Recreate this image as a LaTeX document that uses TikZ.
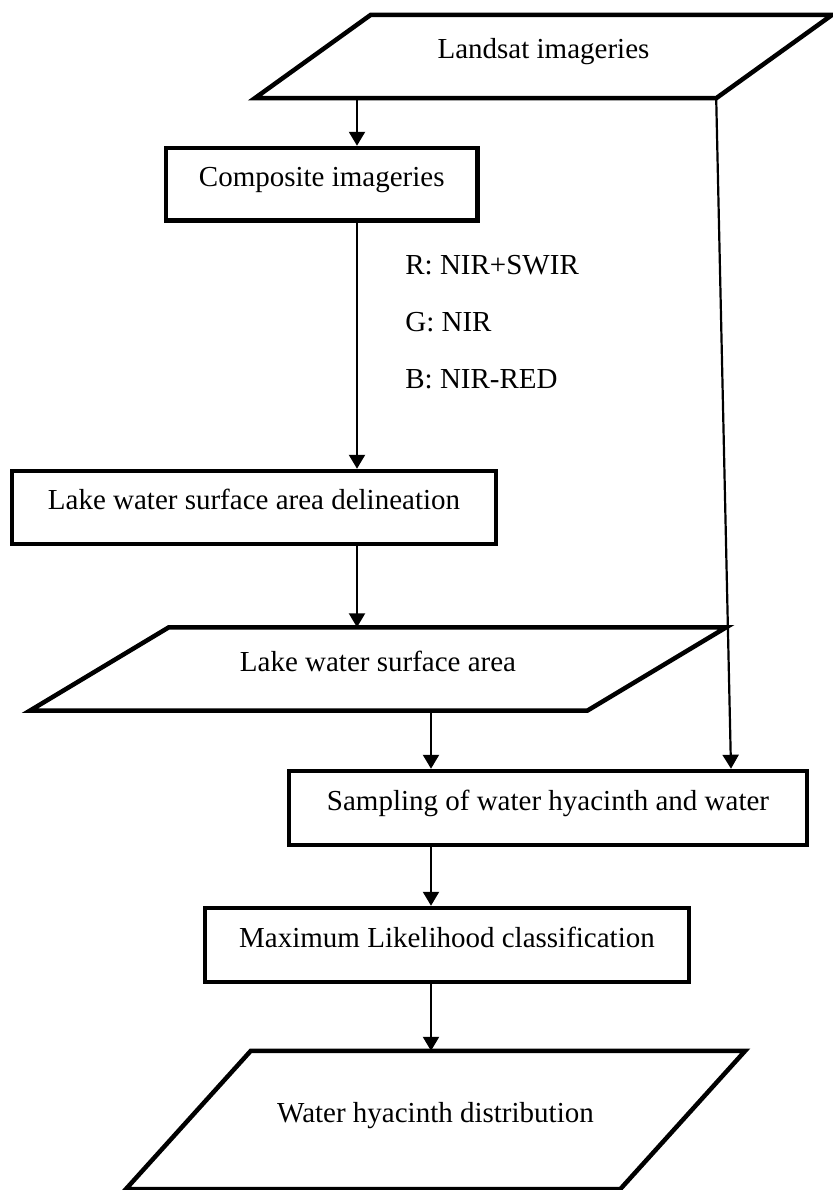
\documentclass[tikz,border=0pt]{standalone}
\usepackage{fontspec}
\setmainfont{Liberation Serif}
\usetikzlibrary{arrows.meta,positioning}

% parallelogram round a data node: #1 node, #2 slant
\newcommand{\datashape}[2]{%
  \draw[frame] ([xshift=#2]#1.north west) -- (#1.north east)
    -- ([xshift=-#2]#1.south east) coordinate (#1-corner) -- (#1.south west) -- cycle;}

\begin{document}
\begin{tikzpicture}[%
            x=0.5pt, y=-0.5pt,
            >={Triangle[length=7pt,width=8pt]},
            node distance=28.5pt,
            on grid,
            every node/.style={font=\fontsize{14.5pt}{17pt}\selectfont, text height=8pt, text depth=6pt, inner sep=0pt},
            frame/.style={line width=2.25pt, line join=miter},
            process/.style={draw, rectangle, frame},
            data/.style={rectangle, outer sep=1.1pt},
            flow/.style={->, line width=1.1pt}
            ]
            \useasboundingbox (0,0) rectangle (832,1190);

            \node[data, minimum width=286.5pt, minimum height=39.5pt] (landsat) at (543.5,56.5) {Landsat imageries};
            \node[process, minimum width=155.75pt, minimum height=36.25pt] (composite) at (321.75,184.25) {Composite imageries};
            \node[process, minimum width=242pt, minimum height=36.5pt] (delineation) at (254,507.5) {Lake water surface area delineation};
            \node[data, minimum width=346pt, minimum height=39.5pt] (lake) at (378,669) {Lake water surface area};
            \node[process, minimum width=259pt, minimum height=37pt] (sampling) at (548,808) {Sampling of water hyacinth and water};
            \node[process, minimum width=242pt, minimum height=37pt] (mlc) at (447,945) {Maximum Likelihood classification};
            \node[data, minimum width=307.5pt, minimum height=67pt] (hyacinth) at (435.5,1120) {Water hyacinth distribution};

            \datashape{landsat}{58pt}
            \datashape{lake}{69.5pt}
            \datashape{hyacinth}{62.5pt}

            % band combination
            \node[anchor=west] (bandR) at (405,272) {R: NIR+SWIR};
            \node[below=of bandR.west, anchor=west] (bandG) {G: NIR};
            \node[below=of bandG.west, anchor=west] (bandB) {B: NIR-RED};

            \coordinate (colA) at (357,0);
            \coordinate (colB) at (431,0);
            \coordinate (colC) at (731,0);

            \draw[flow] (landsat.south -| colA) -- (composite.north -| colA);
            \draw[flow] (composite.south -| colA) -- (delineation.north -| colA);
            \draw[flow] (delineation.south -| colA) -- (lake.north -| colA);
            \draw[flow] (lake.south -| colB) -- (sampling.north -| colB);
            \draw[flow] (landsat-corner) -- (sampling.north -| colC);
            \draw[flow] (sampling.south -| colB) -- (mlc.north -| colB);
            \draw[flow] (mlc.south -| colB) -- (hyacinth.north -| colB);
        \end{tikzpicture}
\end{document}
